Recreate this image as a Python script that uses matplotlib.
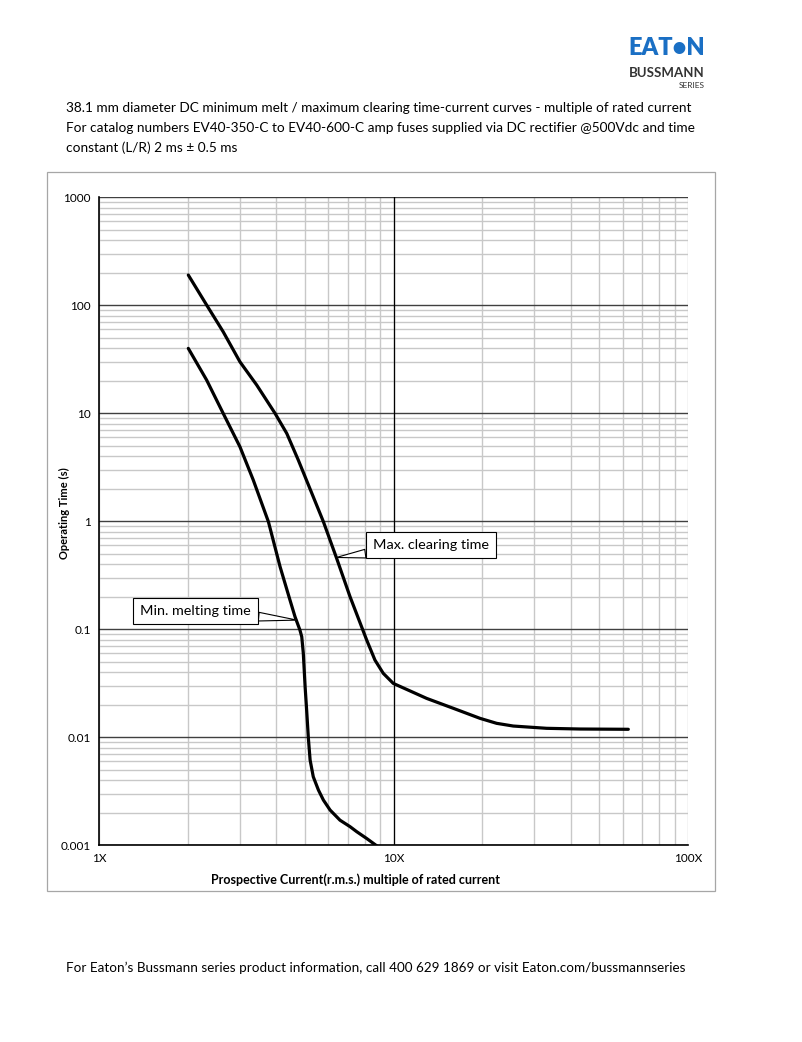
import matplotlib.pyplot as plt
from matplotlib.ticker import LogLocator, FixedLocator, NullFormatter
from matplotlib.patches import Rectangle

plt.rcParams['font.family'] = ['Lato', 'DejaVu Sans']

# maximum clearing time curve (multiple of rated current, seconds)
max_x = [2.01, 2.32, 2.64, 3.01, 3.43, 3.96, 4.34, 4.75, 5.78, 6.41, 7.12, 8.11, 8.65,
         9.23, 9.98, 12.96, 15.97, 19.67, 22.4, 25.5, 33.1, 43.0, 62.7]
max_t = [189.6, 100, 56.6, 29.8, 18.2, 9.94, 6.48, 3.67, 0.986, 0.452, 0.199, 0.079, 0.0516,
         0.0389, 0.0314, 0.0228, 0.01845, 0.0149, 0.0134, 0.01265, 0.01205, 0.01187, 0.0118]

# minimum melting time curve
min_x = [2.01, 2.32, 2.64, 3.01, 3.34, 3.76, 4.12, 4.45, 4.63, 4.81, 4.88, 4.94, 5.01, 5.07,
         5.14, 5.21, 5.34, 5.56, 5.78, 6.09, 6.58, 7.12, 7.5, 8.11, 8.88]
min_t = [39.7, 20.2, 9.94, 4.87, 2.4, 0.986, 0.377, 0.186, 0.13, 0.098, 0.0849, 0.0596, 0.0292,
         0.0178, 0.0097, 0.00612, 0.00429, 0.00323, 0.00261, 0.00211, 0.0017, 0.00148, 0.00133,
         0.00115, 0.00096]

y_ticks = [0.001, 0.01, 0.1, 1, 10, 100, 1000]
y_labels = ['0.001', '0.01', '0.1', '1', '10', '100', '1000']
x_ticks = [1, 10, 100]
x_labels = ['1X', '10X', '100X']

title_lines = [
    '38.1 mm diameter DC minimum melt / maximum clearing time-current curves - multiple of rated current',
    'For catalog numbers EV40-350-C to EV40-600-C amp fuses supplied via DC rectifier @500Vdc and time',
    'constant (L/R) 2 ms \u00b1 0.5 ms',
]
footer = ('For Eaton\u2019s Bussmann series product information, call 400 629 1869 '
          'or visit Eaton.com/bussmannseries')

fig = plt.figure(figsize=(8.03, 10.42), dpi=100)

# chart frame
fig.patches.append(Rectangle((0.0585, 0.1449), 0.8315, 0.69, transform=fig.transFigure,
                             fill=False, ec='#a6a6a6', lw=0.9))

ax = fig.add_axes([0.1233, 0.189, 0.7335, 0.6219])
ax.set_xscale('log')
ax.set_yscale('log')
ax.set_xlim(1, 100)
ax.set_ylim(0.001, 1000)

ax.xaxis.set_major_locator(FixedLocator(x_ticks))
ax.xaxis.set_minor_locator(LogLocator(base=10, subs=range(2, 10)))
ax.xaxis.set_minor_formatter(NullFormatter())
ax.set_xticklabels(x_labels)
ax.yaxis.set_major_locator(FixedLocator(y_ticks))
ax.yaxis.set_minor_locator(LogLocator(base=10, subs=range(2, 10)))
ax.yaxis.set_minor_formatter(NullFormatter())
ax.set_yticklabels(y_labels)
ax.tick_params(which='both', length=0, labelsize=8.5)
ax.tick_params(axis='x', pad=6)
ax.tick_params(axis='y', pad=6)

ax.grid(which='minor', color='#c8c8c8', lw=1.0)
ax.grid(which='major', axis='x', color='#c8c8c8', lw=1.0)
ax.grid(which='major', axis='y', color='#404040', lw=1.0)
ax.axvline(10, color='black', lw=0.9)
ax.set_axisbelow(True)
for s in ['top', 'right']:
    ax.spines[s].set_visible(False)
for s in ['left', 'bottom']:
    ax.spines[s].set_linewidth(1.2)

ax.plot(max_x, max_t, color='black', lw=2.3, solid_capstyle='round', solid_joinstyle='round')
ax.plot(min_x, min_t, color='black', lw=2.3, solid_capstyle='round', solid_joinstyle='round')

box = dict(boxstyle='square,pad=0.5', fc='white', ec='black', lw=0.8)
arrow = dict(arrowstyle='wedge,tail_width=0.6', fc='white', ec='black', lw=0.8,
             shrinkA=0, shrinkB=0)
ax.annotate('Max. clearing time', xy=(6.4, 0.46), xytext=(13.4, 0.6), fontsize=10.4,
            ha='center', va='center', bbox=box, arrowprops=arrow)
ax.annotate('Min. melting time', xy=(4.7, 0.121), xytext=(2.13, 0.147), fontsize=10.4,
            ha='center', va='center', bbox=box, arrowprops=arrow)

ax.set_ylabel('Operating Time (s)', fontsize=8, fontweight='bold')
ax.yaxis.set_label_coords(-0.049, 0.512)
ax.set_xlabel('Prospective Current(r.m.s.) multiple of rated current', fontsize=9,
              fontweight='bold')
ax.xaxis.set_label_coords(0.435, -0.044)

for i, line in enumerate(title_lines):
    fig.text(66 / 803, 1 - (108 + 20 * i) / 1042, line, fontsize=9.8, va='center', ha='left')

fig.text(66 / 803, 1 - 968 / 1042, footer, fontsize=9.75, va='center', ha='left')

# logo
fig.text(705 / 803, 1 - 48 / 1042, 'EAT\u2022N', fontsize=17, fontweight='heavy',
         color='#1a6fc4', ha='right', va='center')
fig.text(705 / 803, 1 - 73 / 1042, 'BUSSMANN', fontsize=9.5, fontweight='bold',
         color='#333333', ha='right', va='center')
fig.text(705 / 803, 1 - 85 / 1042, 'SERIES', fontsize=6, color='#333333',
         ha='right', va='center')

fig.savefig('out.png', dpi=100)
